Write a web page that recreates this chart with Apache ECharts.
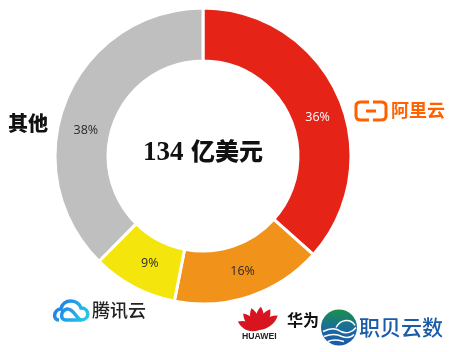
<!DOCTYPE html>
<html>
<head>
<meta charset="utf-8">
<style>
html, body { margin: 0; padding: 0; background: #fff; }
#main { width: 449px; height: 352px; }
</style>
</head>
<body>
<div id="main"></div>
<script src="https://cdn.jsdelivr.net/npm/echarts@6/dist/echarts.min.js"></script>
<script>
const vendors = ['阿里云', '华为', '腾讯云', '其他'];
// arc sizes, the printed labels are rounded
const arcShares = [36.6, 16.5, 9.3, 37.6];
const shareLabels = ['36%', '16%', '9%', '38%'];
const sliceColors = ['#e52317', '#f1931a', '#f4e60c', '#bfbfbf'];
const labelColors = ['#fff', '#2a2a2a', '#2a2a2a', '#2a2a2a'];
const labelShifts = [[1, 12], [0, -3], [5, -3], [-2, 22]];
const totalText = '亿美元';
const totalValue = '134';

const chart = echarts.init(document.getElementById('main'));

// logo outlines, graphic has no plain path type so register them
const logoPaths = {
    aliLogo: 'M369 102 H361 Q356 102 356 106 V116 Q356 120 361 120 H369 M373 102 H381 Q386 102 386 106 V116 Q386 120 381 120 H373 M366 111 H376',
    cloudLogo: 'M59 320 C52 320 54 309 61 309 C63 298 78 299 81 308 C90 308 90 320 81 320 H66 C60 320 60 311 67 309 C73 308 76 318 81 320',
    petalLogo: 'M0 0 C-7 -6 -7 -14 -3 -20 C2 -15 3 -7 0 0 Z',
    waveLogo: 'M322 335 C330 331 336 332 340 335 C346 338 352 335 355 331 M323 340 C331 337 337 338 341 340 C346 342 350 341 353 338 M327 345 C333 342 339 344 343 345 M335 331 C340 322 350 322 354 329'
};
Object.keys(logoPaths).forEach(function (name) {
    echarts.graphic.registerShape(name, echarts.graphic.extendPath(logoPaths[name], {}));
});

// 华为 petals
function petal(angle) {
    return {
        type: 'petalLogo',
        x: 259.5, y: 330,
        scaleX: 1.15, scaleY: 1.15,
        rotation: angle * Math.PI / 180,
        style: { fill: '#d7141f' }
    };
}

chart.setOption({
    animation: false,
    series: [{
        type: 'pie',
        center: [203, 156],
        radius: [95, 148],
        startAngle: 90,
        clockwise: true,
        itemStyle: { borderColor: '#fff', borderWidth: 3 },
        label: {
            position: 'inside',
            fontFamily: 'Open Sans',
            fontSize: 12.5,
            formatter: (p) => shareLabels[p.dataIndex]
        },
        labelLine: { show: false },
        labelLayout: (p) => ({ dx: labelShifts[p.dataIndex][0], dy: labelShifts[p.dataIndex][1] }),
        data: vendors.map((name, i) => ({
            name: name,
            value: arcShares[i],
            itemStyle: { color: sliceColors[i] },
            label: { color: labelColors[i] }
        }))
    }],
    graphic: [
        // 中心文字
        {
            type: 'text', x: 143, y: 140,
            style: {
                text: totalValue, fill: '#111',
                font: 'bold 27px "Liberation Serif"'
            }
        },
        {
            type: 'text', x: 191, y: 139,
            style: {
                text: totalText, fill: '#111',
                font: '900 24px "Noto Sans CJK SC"'
            }
        },
        // 其他
        {
            type: 'text', x: 8, y: 113,
            style: {
                text: '其他', fill: '#111',
                font: '900 20px "Noto Sans CJK SC"'
            }
        },
        // 阿里云
        {
            type: 'aliLogo',
            style: { fill: 'none', stroke: '#ff6000', lineWidth: 3 }
        },
        {
            type: 'text', x: 391, y: 101,
            style: {
                text: '阿里云', fill: '#ff6000',
                font: '700 18px "Noto Sans CJK SC"'
            }
        },
        // 腾讯云
        {
            type: 'cloudLogo',
            style: {
                fill: 'none', lineWidth: 3.5,
                stroke: new echarts.graphic.LinearGradient(0, 0, 1, 1, [
                    { offset: 0, color: '#1f6fe8' },
                    { offset: 1, color: '#27d3e0' }
                ])
            }
        },
        {
            type: 'text', x: 92, y: 301,
            style: {
                text: '腾讯云', fill: '#222',
                font: '500 18px "Noto Sans CJK SC"'
            }
        },
        // 华为
        petal(-60), petal(-36), petal(-12), petal(12), petal(36), petal(60),
        {
            type: 'text', x: 242, y: 332,
            style: {
                text: 'HUAWEI', fill: '#222',
                font: 'bold 8.7px "Liberation Sans"'
            }
        },
        {
            type: 'text', x: 287, y: 312,
            style: {
                text: '华为', fill: '#111',
                font: '700 16px "Noto Sans CJK SC"'
            }
        },
        // 职贝云数
        {
            type: 'circle',
            shape: { cx: 339, cy: 327.5, r: 18 },
            style: {
                fill: new echarts.graphic.LinearGradient(0, 0, 0, 1, [
                    { offset: 0, color: '#1a8f4a' },
                    { offset: 0.55, color: '#1a6aa0' },
                    { offset: 1, color: '#1b5aa8' }
                ])
            }
        },
        {
            type: 'waveLogo',
            x: 1, y: -3.5,
            style: { fill: 'none', stroke: '#fff', lineWidth: 1.5 }
        },
        {
            type: 'text', x: 359, y: 317,
            style: {
                text: '职贝云数', fill: '#1a5ca8',
                font: '500 21px "Noto Sans CJK SC"'
            }
        }
    ]
});
</script>
</body>
</html>
